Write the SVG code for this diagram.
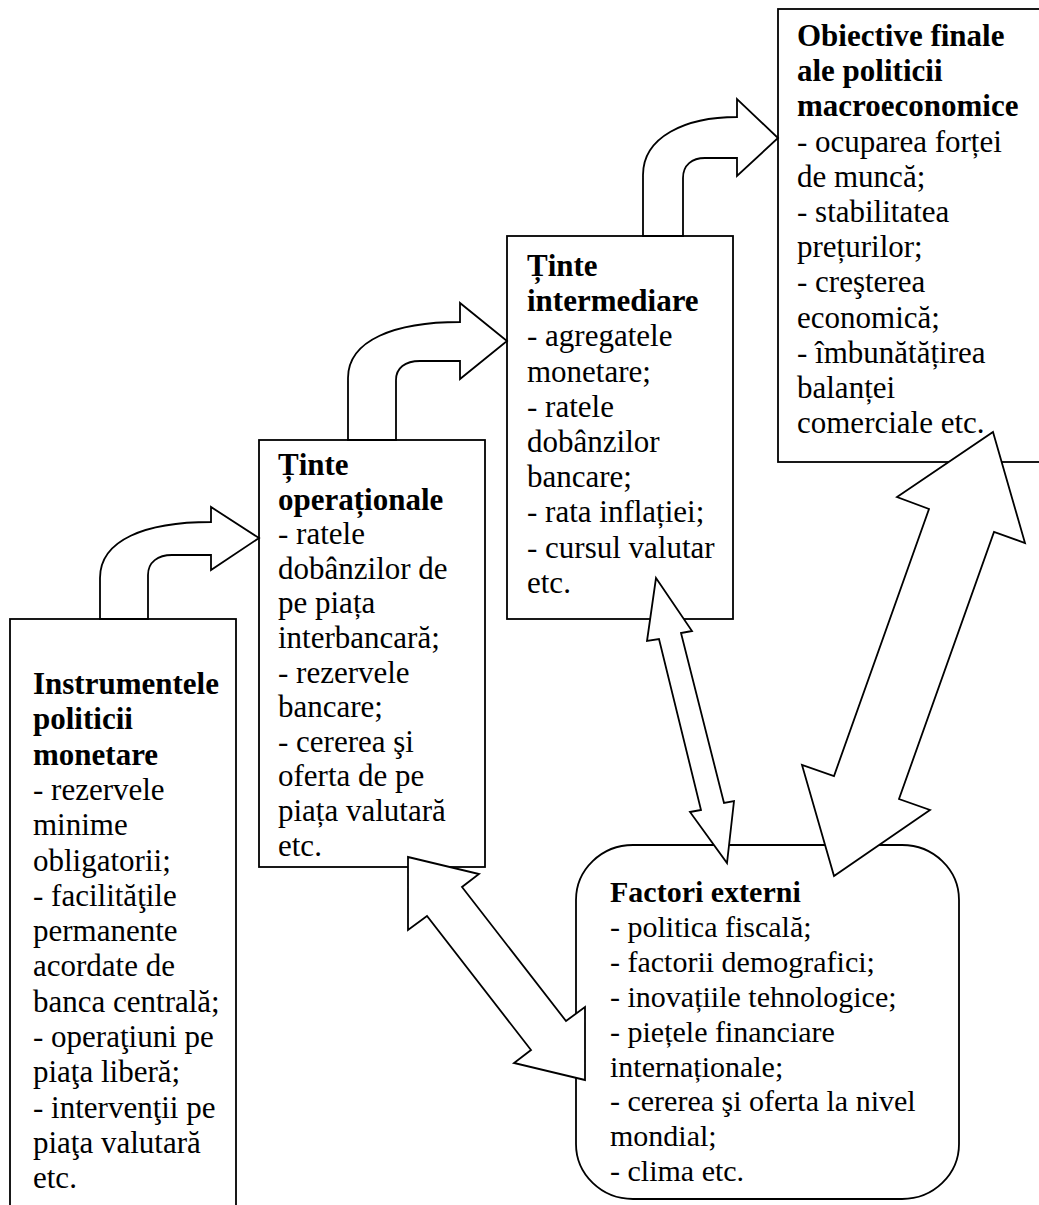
<svg xmlns="http://www.w3.org/2000/svg" width="1039" height="1205" viewBox="0 0 1039 1205">
<style>
.box{fill:#fff;stroke:#000;stroke-width:1.8}
.arr{fill:#fff;stroke:#000;stroke-width:1.8;stroke-linejoin:miter}
text{font-family:"Liberation Serif","Times New Roman",serif;font-size:31px;fill:#000}
.f{font-size:30px}
.b{font-weight:bold}
</style>
<rect width="1039" height="1205" fill="#fff"/>
<g id="node-instrumente">
<rect class="box" x="10" y="619" width="226" height="620"/>
<text x="33" y="694"><tspan class="b">Instrumentele</tspan><tspan class="b" x="33" dy="35.3">politicii</tspan><tspan class="b" x="33" dy="35.3">monetare</tspan><tspan x="33" dy="35.3">- rezervele</tspan><tspan x="33" dy="35.3">minime</tspan><tspan x="33" dy="35.3">obligatorii;</tspan><tspan x="33" dy="35.3">- facilităţile</tspan><tspan x="33" dy="35.3">permanente</tspan><tspan x="33" dy="35.3">acordate de</tspan><tspan x="33" dy="35.3">banca centrală;</tspan><tspan x="33" dy="35.3">- operaţiuni pe</tspan><tspan x="33" dy="35.3">piaţa liberă;</tspan><tspan x="33" dy="35.3">- intervenţii pe</tspan><tspan x="33" dy="35.3">piaţa valutară</tspan><tspan x="33" dy="35.3">etc.</tspan></text>
</g>
<g id="node-tinte-operationale">
<rect class="box" x="259" y="440" width="226" height="427"/>
<text x="278" y="475"><tspan class="b">Ținte</tspan><tspan class="b" x="278" dy="34.6">operaționale</tspan><tspan x="278" dy="34.6">- ratele</tspan><tspan x="278" dy="34.6">dobânzilor de</tspan><tspan x="278" dy="34.6">pe piața</tspan><tspan x="278" dy="34.6">interbancară;</tspan><tspan x="278" dy="34.6">- rezervele</tspan><tspan x="278" dy="34.6">bancare;</tspan><tspan x="278" dy="34.6">- cererea şi</tspan><tspan x="278" dy="34.6">oferta de pe</tspan><tspan x="278" dy="34.6">piața valutară</tspan><tspan x="278" dy="34.6">etc.</tspan></text>
</g>
<g id="node-tinte-intermediare">
<rect class="box" x="507" y="236" width="226" height="383"/>
<text x="527" y="276"><tspan class="b">Ținte</tspan><tspan class="b" x="527" dy="35.2">intermediare</tspan><tspan x="527" dy="35.2">- agregatele</tspan><tspan x="527" dy="35.2">monetare;</tspan><tspan x="527" dy="35.2">- ratele</tspan><tspan x="527" dy="35.2">dobânzilor</tspan><tspan x="527" dy="35.2">bancare;</tspan><tspan x="527" dy="35.2">- rata inflației;</tspan><tspan x="527" dy="35.2">- cursul valutar</tspan><tspan x="527" dy="35.2">etc.</tspan></text>
</g>
<g id="node-obiective">
<rect class="box" x="778" y="9" width="280" height="453"/>
<text x="797" y="46"><tspan class="b">Obiective finale</tspan><tspan class="b" x="797" dy="35.2">ale politicii</tspan><tspan class="b" x="797" dy="35.2">macroeconomice</tspan><tspan x="797" dy="35.2">- ocuparea forței</tspan><tspan x="797" dy="35.2">de muncă;</tspan><tspan x="797" dy="35.2">- stabilitatea</tspan><tspan x="797" dy="35.2">prețurilor;</tspan><tspan x="797" dy="35.2">- creşterea</tspan><tspan x="797" dy="35.2">economică;</tspan><tspan x="797" dy="35.2">- îmbunătățirea</tspan><tspan x="797" dy="35.2">balanței</tspan><tspan x="797" dy="35.2">comerciale etc.</tspan></text>
</g>
<g id="node-factori-externi">
<rect class="box" x="576" y="845" width="383" height="354" rx="57" ry="55"/>
<text class="f" x="610" y="902"><tspan class="b">Factori externi</tspan><tspan x="610" dy="34.9">- politica fiscală;</tspan><tspan x="610" dy="34.9">- factorii demografici;</tspan><tspan x="610" dy="34.9">- inovațiile tehnologice;</tspan><tspan x="610" dy="34.9">- piețele financiare</tspan><tspan x="610" dy="34.9">internaționale;</tspan><tspan x="610" dy="34.9">- cererea şi oferta la nivel</tspan><tspan x="610" dy="34.9">mondial;</tspan><tspan x="610" dy="34.9">- clima etc.</tspan></text>
</g>
<g id="connectors">
<path class="arr" d="M100,619 L100,578 C100,540 145,522 211,522 L211,507 L259,538 L211,570 L211,555 L172,555 C158,555 148,562 148,575 L148,619 Z"/>
<path class="arr" d="M348,440 L348,378 C348,340 395,322 460,322 L460,303 L507,341 L460,379 L460,361 L420,361 C405,361 396,368 396,380 L396,440 Z"/>
<path class="arr" d="M643,236 L643,175 C643,137 685,117 737,117 L737,99 L778,138 L737,176 L737,158 L705,158 C692,158 683,165 683,178 L683,236 Z"/>
<polygon class="arr" points="408,857 479,874 462,887 566,1021 585,1007 585,1080 514,1063 531,1050 427,916 408,930"/>
<polygon class="arr" points="656,578 692,631 681,633 724,803 734,801 727,863 690,812 701,810 659,639 647,641"/>
<polygon class="arr" points="993,432 1025,543 994,532 899,799 930,810 834,876 802,765 834,776 929,509 897,497"/>
</g>
</svg>
